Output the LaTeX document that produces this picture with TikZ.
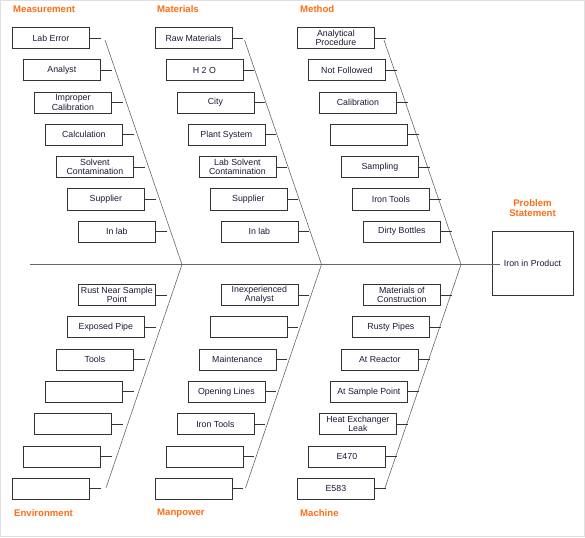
\documentclass[tikz,border=0pt]{standalone}
\usepackage{fontspec}
\setmainfont{Liberation Sans}
\usetikzlibrary{positioning}

\definecolor{headorange}{RGB}{255,108,20}
\definecolor{causetext}{RGB}{25,25,55}

\tikzset{
	cause/.style={draw=black!80, line width=0.75pt, anchor=north west, minimum width=77pt, minimum height=21pt, inner sep=0pt, align=center, text=causetext, font=\fontsize{8.8}{9.4}\selectfont},
	stub/.style={draw=black!80, line width=0.6pt},
	bone/.style={draw=black!60, line width=0.6pt},
	heading/.style={text=headorange, inner sep=0pt, font=\bfseries\fontsize{9.6}{10.5}\selectfont}
}

\begin{document}
\begin{tikzpicture}[x=1pt, y=-1pt]

	\useasboundingbox (0,0) rectangle (585,537);
	\draw[black!12] (0.5,0.5) rectangle (584.5,536.5);

	% headings
	\node[heading, anchor=west] (hmeas) at (13,9.5) {Measurement};
	\node[heading, anchor=west] (hmat) at (157,9.5) {Materials};
	\node[heading, anchor=west] (hmeth) at (300,9.5) {Method};
	\node[heading, anchor=west] (henv) at (14,513.5) {Environment};
	\node[heading, anchor=west] (hman) at (157,513.5) {Manpower};
	\node[heading, anchor=west] (hmach) at (300,513.5) {Machine};
	\node[heading, align=center] (hprob) at (532.5,208) {Problem\\Statement};

	% problem box and spine
	\node[draw=black!80, line width=0.75pt, minimum width=81pt, minimum height=64pt, text=causetext, font=\fontsize{8.8}{9.4}\selectfont] (problem) at (532.5,263) {Iron in Product};
	\coordinate (tail) at (30,264.5);
	\coordinate (head) at (500,264.5);
	\draw[bone] (tail) -- (head);

	% bones
	\coordinate (apexA) at (182,264.5);
	\coordinate (apexB) at (321.5,264.5);
	\coordinate (apexC) at (461,264.5);
	\coordinate (measTop) at (105,40);
	\coordinate (matTop) at (244.5,40);
	\coordinate (methTop) at (384,40);
	\coordinate (envBot) at (106,488);
	\coordinate (manBot) at (245.5,488);
	\coordinate (machBot) at (385,488);
	\draw[bone] (measTop) -- (apexA) -- (envBot);
	\draw[bone] (matTop) -- (apexB) -- (manBot);
	\draw[bone] (methTop) -- (apexC) -- (machBot);

	% upper causes
	\foreach \t [count=\i from 0] in {Lab Error, Analyst, {Improper\\Calibration}, Calculation, {Solvent\\Contamination}, Supplier, In lab}
	{
		\node[cause] (meas\i) at (12+11*\i, 27+32.3*\i) {\t};
		\coordinate[right=11pt of meas\i] (meas\i-end);
		\draw[stub] (meas\i) -- (meas\i-end);
	}

	\foreach \t [count=\i from 0] in {Raw Materials, H 2 O, City, Plant System, {Lab Solvent\\Contamination}, Supplier, In lab}
	{
		\node[cause] (mat\i) at (154.5+11*\i, 27+32.3*\i) {\t};
		\coordinate[right=11pt of mat\i] (mat\i-end);
		\draw[stub] (mat\i) -- (mat\i-end);
	}

	\foreach \t [count=\i from 0] in {{Analytical\\Procedure}, Not Followed, Calibration, {}, Sampling, Iron Tools, Dirty Bottles}
	{
		\node[cause] (meth\i) at (297+11*\i, 27+32.3*\i) {\t};
		\coordinate[right=11pt of meth\i] (meth\i-end);
		\draw[stub] (meth\i) -- (meth\i-end);
	}

	% lower causes
	\foreach \t [count=\i from 0] in {{Rust Near Sample\\Point}, Exposed Pipe, Tools, {}, {}, {}, {}}
	{
		\node[cause] (env\i) at (78-11*\i, 284+32.3*\i) {\t};
		\coordinate[right=11pt of env\i] (env\i-end);
		\draw[stub] (env\i) -- (env\i-end);
	}

	\foreach \t [count=\i from 0] in {{Inexperienced\\Analyst}, {}, Maintenance, Opening Lines, Iron Tools, {}, {}}
	{
		\node[cause] (man\i) at (220.5-11*\i, 284+32.3*\i) {\t};
		\coordinate[right=11pt of man\i] (man\i-end);
		\draw[stub] (man\i) -- (man\i-end);
	}

	\foreach \t [count=\i from 0] in {{Materials of\\Construction}, Rusty Pipes, At Reactor, At Sample Point, {Heat Exchanger\\Leak}, E470, E583}
	{
		\node[cause] (mach\i) at (363-11*\i, 284+32.3*\i) {\t};
		\coordinate[right=11pt of mach\i] (mach\i-end);
		\draw[stub] (mach\i) -- (mach\i-end);
	}

\end{tikzpicture}
\end{document}
